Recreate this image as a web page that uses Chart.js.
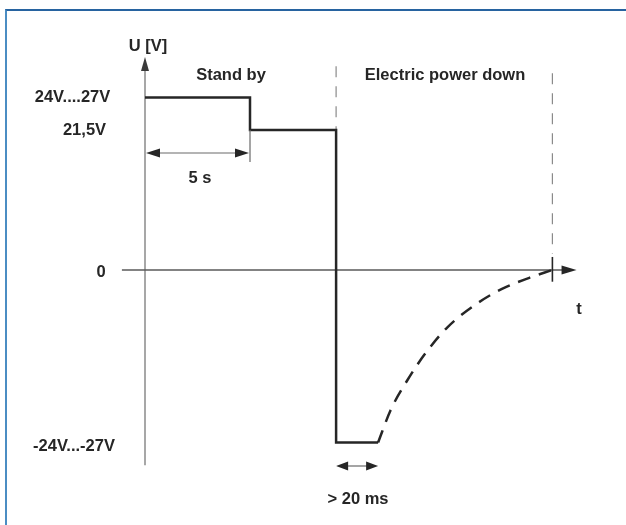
<!DOCTYPE html>
<html>
<head>
<meta charset="utf-8">
<script src="https://cdn.jsdelivr.net/npm/chart.js@4.4.1/dist/chart.umd.min.js"></script>
<style>
  html, body { margin: 0; padding: 0; background: #fff; overflow: hidden; }
  #wrap { position: relative; width: 626px; height: 525px; }
  #frame { position: absolute; left: 5px; top: 9px; width: 700px; height: 600px;
           border-left: 2px solid #4b8dc3; border-top: 2px solid #2763a0; }
  canvas { position: absolute; left: 0; top: 0; }
</style>
</head>
<body>
<div id="wrap">
  <div id="frame"></div>
  <canvas id="myChart" width="626" height="525"></canvas>
</div>
<script>
// 電源時序 (voltage vs time)
var timeS   = [0, 5, 5, 9.1, 9.1, 11.1];
var voltV   = [26.5, 26.5, 21.5, 21.5, -26.5, -26.5];
// 放電曲線 (dashed)
var decayT  = [11.1, 11.7, 12.5, 13.4, 14.4, 15.7, 17.0, 18.3, 19.4];
var decayV  = [-26.5, -21.5, -16.9, -12.6, -8.8, -5.4, -2.9, -1.2, 0];
// 左側電壓標籤
var levelValues = [26.5, 21.5, 0, -26.5];
var levelLabels = ['24V....27V', '21,5V', '0', '-24V...-27V'];
// 區段
var phaseMarks  = [9.1, 19.4];
var phaseLabels = ['Stand by', 'Electric power down'];
var standbyDur  = [0, 5];      // 5 s
var holdDur     = [9.1, 11.1]; // > 20 ms

function pts(xs, ys) {
    var out = [];
    for (var i = 0; i < xs.length; i++) out.push({x: xs[i], y: ys[i]});
    return out;
}

var ink = '#262626';
var font = 'bold 16.5px "Liberation Sans", Arial, sans-serif';

function arrowHead(ctx, x, y, dir, len, half) {
    // dir: 'up','right','left'
    ctx.beginPath();
    if (dir === 'up') {
        ctx.moveTo(x, y); ctx.lineTo(x - half, y + len); ctx.lineTo(x + half, y + len);
    } else if (dir === 'right') {
        ctx.moveTo(x, y); ctx.lineTo(x - len, y - half); ctx.lineTo(x - len, y + half);
    } else {
        ctx.moveTo(x, y); ctx.lineTo(x + len, y - half); ctx.lineTo(x + len, y + half);
    }
    ctx.closePath();
    ctx.fill();
}

var diagramPlugin = {
    id: 'diagram',
    beforeDatasetsDraw: function (chart) {
        var ctx = chart.ctx, xs = chart.scales.x, ys = chart.scales.y;
        var x0 = xs.getPixelForValue(0), y0 = ys.getPixelForValue(0);
        ctx.save();
        // U axis
        ctx.strokeStyle = '#8a8a8a'; ctx.fillStyle = '#3a3a3a'; ctx.lineWidth = 1.5;
        ctx.beginPath();
        ctx.moveTo(x0, ys.getPixelForValue(-30)); ctx.lineTo(x0, ys.getPixelForValue(31));
        ctx.stroke();
        arrowHead(ctx, x0, ys.getPixelForValue(32.7), 'up', 14, 4);
        // t axis
        ctx.strokeStyle = '#5a5a5a';
        ctx.beginPath();
        ctx.moveTo(xs.getPixelForValue(-1.1), y0); ctx.lineTo(xs.getPixelForValue(19.9), y0);
        ctx.stroke();
        ctx.fillStyle = ink;
        arrowHead(ctx, xs.getPixelForValue(20.55), y0, 'right', 15, 4.5);
        // phase markers
        ctx.strokeStyle = '#8a8a8a'; ctx.lineWidth = 1.2;
        ctx.setLineDash([11, 9]);
        ctx.beginPath();
        var m0 = xs.getPixelForValue(phaseMarks[0]);
        ctx.moveTo(m0, ys.getPixelForValue(31.3)); ctx.lineTo(m0, ys.getPixelForValue(21.5));
        var m1 = xs.getPixelForValue(phaseMarks[1]);
        ctx.moveTo(m1, ys.getPixelForValue(30.2)); ctx.lineTo(m1, ys.getPixelForValue(2.5));
        ctx.stroke();
        ctx.setLineDash([]);
        ctx.strokeStyle = ink; ctx.lineWidth = 1.6;
        ctx.beginPath();
        ctx.moveTo(m1, ys.getPixelForValue(2)); ctx.lineTo(m1, ys.getPixelForValue(-1.8));
        ctx.stroke();
        ctx.restore();
    },
    afterDatasetsDraw: function (chart) {
        var ctx = chart.ctx, xs = chart.scales.x, ys = chart.scales.y;
        ctx.save();
        ctx.font = font; ctx.fillStyle = ink;
        ctx.textAlign = 'center'; ctx.textBaseline = 'middle';
        // level labels
        var labelX = [72.5, 84.5, 101, 74];
        var labelDy = [0, 0, 2, 4];
        for (var i = 0; i < levelValues.length; i++) {
            ctx.fillText(levelLabels[i], labelX[i], ys.getPixelForValue(levelValues[i]) + labelDy[i]);
        }
        ctx.fillText('U [V]', 148, 46);
        ctx.fillText('t', 579, 309);
        ctx.fillText(phaseLabels[0], 231, 75);
        ctx.fillText(phaseLabels[1], 445, 75);

        // 5 s dimension
        var ay = 153;
        var a = xs.getPixelForValue(standbyDur[0]), b = xs.getPixelForValue(standbyDur[1]);
        ctx.strokeStyle = '#6a6a6a'; ctx.lineWidth = 1.2;
        ctx.beginPath();
        ctx.moveTo(a + 10, ay); ctx.lineTo(b - 10, ay);
        ctx.moveTo(b, ys.getPixelForValue(21.5)); ctx.lineTo(b, 162);
        ctx.stroke();
        arrowHead(ctx, a + 1, ay, 'left', 14, 4.5);
        arrowHead(ctx, b - 1, ay, 'right', 14, 4.5);
        ctx.fillText(standbyDur[1] + ' s', 200, 178);

        // > 20 ms dimension
        var by = 466;
        var c = xs.getPixelForValue(holdDur[0]), d = xs.getPixelForValue(holdDur[1]);
        ctx.beginPath();
        ctx.moveTo(c + 8, by); ctx.lineTo(d - 8, by);
        ctx.stroke();
        arrowHead(ctx, c, by, 'left', 12, 4.5);
        arrowHead(ctx, d, by, 'right', 12, 4.5);
        ctx.fillText('> 20 ms', 358, 499);
        ctx.restore();
    }
};

var ctx1 = document.getElementById('myChart');
var myChart = new Chart(ctx1, {
    type: 'line',
    data: {
        datasets: [{
            label: 'U',
            data: pts(timeS, voltV),
            borderColor: ink,
            borderWidth: 2.5,
            pointRadius: 0,
            tension: 0,
            borderJoinStyle: 'miter',
            fill: false
        }, {
            label: 'decay',
            data: pts(decayT, decayV),
            borderColor: ink,
            borderWidth: 2.5,
            borderDash: [13, 9],
            pointRadius: 0,
            cubicInterpolationMode: 'monotone',
            fill: false
        }]
    },
    options: {
        responsive: false,
        animation: false,
        layout: { padding: 0 },
        scales: {
            x: { type: 'linear', display: false, min: -6.905, max: 22.905 },
            y: { display: false, min: -39.17, max: 41.47 }
        },
        plugins: {
            legend: { display: false },
            tooltip: { enabled: false }
        }
    },
    plugins: [diagramPlugin]
});
</script>
</body>
</html>
